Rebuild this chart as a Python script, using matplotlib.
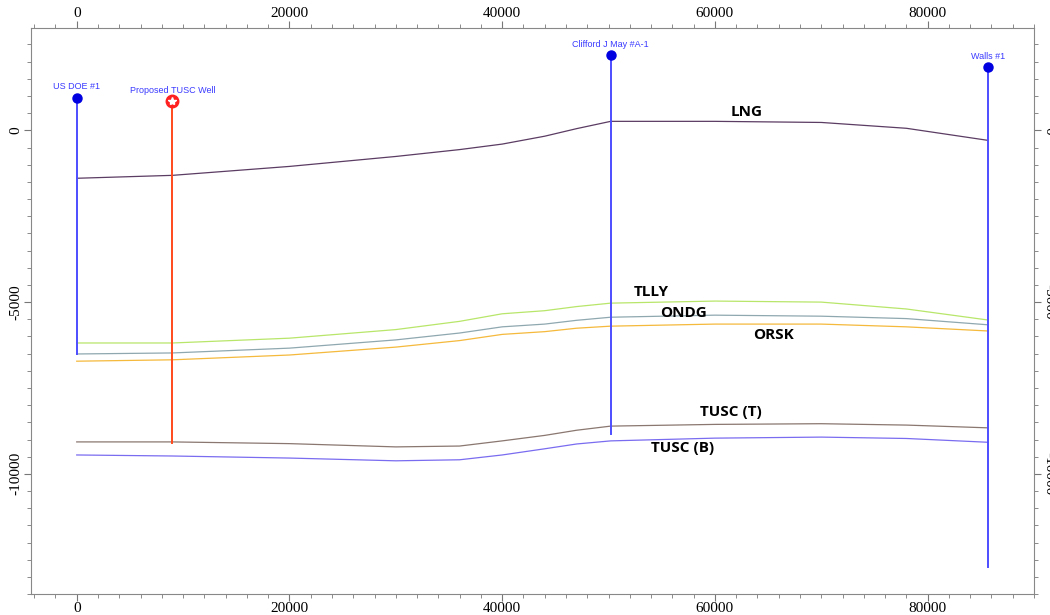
import matplotlib.pyplot as plt
from matplotlib.ticker import MultipleLocator

plt.rcParams["axes.unicode_minus"] = False

# wells: name, x position, top, bottom
well_names = ["US DOE #1", "Proposed TUSC Well", "Clifford J May #A-1", "Walls #1"]
well_x = [0, 9000, 50200, 85640]
well_top = [950, 840, 2180, 1830]
well_bottom = [-6510, -9100, -8840, -12700]

# horizon picks along the section
hz_x = [0, 9000, 20000, 30000, 36000, 40000, 44000, 47000, 50200, 60000, 70000, 78000, 85640]
lng = [-1395, -1310, -1050, -760, -560, -400, -170, 50, 262, 262, 230, 60, -290]
tlly = [-6190, -6190, -6050, -5800, -5560, -5340, -5250, -5130, -5030, -4970, -5000, -5200, -5520]
ondg = [-6510, -6480, -6340, -6100, -5900, -5720, -5640, -5530, -5440, -5380, -5410, -5480, -5660]
orsk = [-6720, -6680, -6540, -6310, -6120, -5940, -5860, -5760, -5700, -5640, -5640, -5720, -5840]
tusc_t = [-9070, -9070, -9120, -9215, -9190, -9040, -8880, -8730, -8610, -8560, -8540, -8580, -8660]
tusc_b = [-9450, -9480, -9540, -9620, -9590, -9450, -9270, -9130, -9040, -8960, -8930, -8970, -9080]

horizons = [("LNG", lng, "#5b3c63"), ("TLLY", tlly, "#b8e66a"), ("ONDG", ondg, "#8fa8b0"),
            ("ORSK", orsk, "#f5b93c"), ("TUSC (T)", tusc_t, "#8a7770"), ("TUSC (B)", tusc_b, "#7a6cf0")]

# label anchor points (data coords)
label_pos = {"LNG": (63000, 520), "TLLY": (54000, -4700), "ONDG": (57000, -5330),
             "ORSK": (65500, -5950), "TUSC (T)": (61500, -8200), "TUSC (B)": (57000, -9250)}

fig = plt.figure(figsize=(10.5, 6.15), dpi=100)
ax = fig.add_axes([0.0295, 0.034, 0.9553, 0.9205])

for name, vals, col in horizons:
    ax.plot(hz_x, vals, color=col, lw=0.9, zorder=2)
    lx, ly = label_pos[name]
    ax.text(lx, ly, name, fontsize=11, fontweight="bold", family="Open Sans",
            ha="center", va="center", color="black")

for name, x, top, bot in zip(well_names, well_x, well_top, well_bottom):
    if name.startswith("Proposed"):
        ax.plot([x, x], [top, bot], color="#ff4a1c", lw=1.4, zorder=3)
        ax.plot(x, top, "o", ms=9, color="#ff2020", zorder=4)
        ax.plot(x, top, "*", ms=6, color="white", zorder=5)
    else:
        ax.plot([x, x], [top, bot], color="#4d4dff", lw=1.4, zorder=3)
        ax.plot(x, top, "o", ms=6.5, color="#0000e0", zorder=4)
    ax.text(x, top + 200, name, fontsize=6.5, color="#3a3aff", ha="center", va="bottom",
            family="Liberation Sans")

ax.set_xlim(-4300, 90000)
ax.set_ylim(-13500, 2980)

ax.set_xticks([0, 20000, 40000, 60000, 80000])
ax.set_yticks([0, -5000, -10000])
ax.xaxis.set_minor_locator(MultipleLocator(2000))
ax.yaxis.set_minor_locator(MultipleLocator(500))

ax.tick_params(which="both", direction="out", color="#777777", top=True, right=True,
               labeltop=True, labelbottom=True, labelleft=True, labelright=True,
               labelsize=11, pad=1)
ax.tick_params(which="major", length=5)
ax.tick_params(which="minor", length=3)

for t in ax.xaxis.get_major_ticks():
    t.label1.set_family("Liberation Serif")
    t.label2.set_family("Liberation Serif")
for t in ax.yaxis.get_major_ticks():
    t.label1.set_family("Liberation Serif")
    t.label2.set_family("Liberation Serif")
    t.label1.set_rotation(90)
    t.label1.set_va("center")
    t.label2.set_rotation(-90)
    t.label2.set_va("center")

for s in ax.spines.values():
    s.set_color("#888888")
    s.set_linewidth(0.8)

fig.savefig("out.png", dpi=100)
